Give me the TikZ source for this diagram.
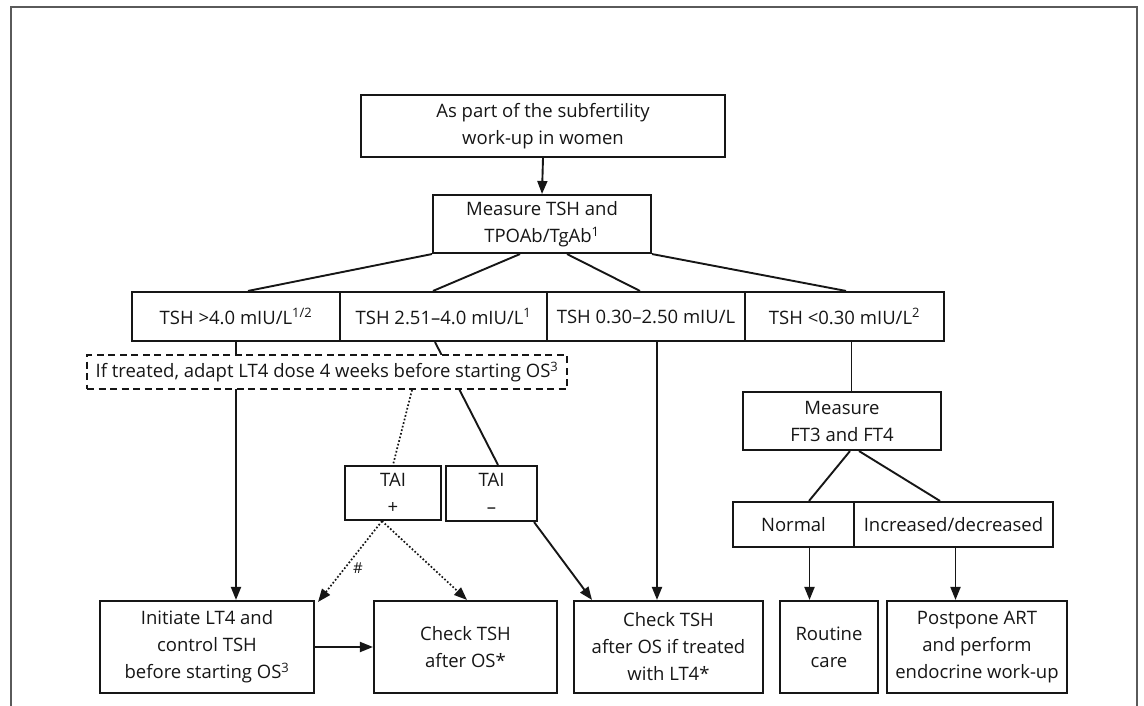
\documentclass[tikz,border=0pt]{standalone}
\usepackage{fontspec}
\setmainfont{Open Sans}
\usetikzlibrary{arrows.meta}
\definecolor{ink}{HTML}{161616}
\definecolor{framegray}{HTML}{5A5A5A}
\begin{document}
\begin{tikzpicture}[x=1pt,y=-1pt,
  every node/.style={font=\fontsize{18.5}{27}\selectfont, text=ink},
  box/.style={draw=ink, line width=2.1pt, fill=white, inner sep=0pt, align=center},
  conn/.style={draw=ink, line width=1.9pt},
  arr/.style={conn, -{Triangle[length=13pt,width=10pt]}},
  dotconn/.style={draw=ink, line width=1.7pt, dotted},
  dotarr/.style={dotconn, -{Triangle[length=13pt,width=10pt]}}
]
\useasboundingbox (0,0) rectangle (1144,706);
\draw[framegray, line width=2.4pt] (10.7,706) -- (10.7,7.3) -- (1136.7,7.3) -- (1136.7,706);

% nodes
\node[box, minimum width=364pt, minimum height=62pt] (top) at (543,126) {As part of the subfertility\\work-up in women};
\node[box, minimum width=218pt, minimum height=58pt] (meas) at (542,224) {Measure TSH and\\TPOAb/TgAb\textsuperscript{1}};
\node[box, minimum width=208pt, minimum height=49pt] (t1) at (236,316.5) {TSH >4.0 mIU/L\textsuperscript{1/2}};
\node[box, minimum width=207pt, minimum height=49pt] (t2) at (443.5,316.5) {TSH 2.51–4.0 mIU/L\textsuperscript{1}};
\node[box, minimum width=198pt, minimum height=49pt] (t3) at (646,316.5) {TSH 0.30–2.50 mIU/L};
\node[box, minimum width=199pt, minimum height=49pt] (t4) at (844.5,316.5) {TSH <0.30 mIU/L\textsuperscript{2}};
\node[box, minimum width=96pt, minimum height=54pt] (taip) at (393,493) {TAI\\+};
\node[box, minimum width=91pt, minimum height=55pt] (taim) at (491.5,493.5) {TAI\\–};
\node[box, minimum width=214pt, minimum height=92pt] (init) at (207,647) {Initiate LT4 and\\control TSH\\before starting OS\textsuperscript{3}};
\node[box, minimum width=183pt, minimum height=92pt] (chk) at (465.5,647) {Check TSH\\after OS*};
\node[box, minimum width=189pt, minimum height=92pt] (chk2) at (668.5,647) {Check TSH\\after OS if treated\\with LT4*};
\node[box, minimum width=198pt, minimum height=58pt] (ft) at (842,421) {Measure\\FT3 and FT4};
\node[box, minimum width=121pt, minimum height=45pt] (nor) at (793.5,524.5) {Normal};
\node[box, minimum width=199pt, minimum height=45pt] (inc) at (953.5,524.5) {Increased/decreased};
\node[box, minimum width=98pt, minimum height=92pt] (rout) at (829,647) {Routine\\care};
\node[box, minimum width=180pt, minimum height=92pt] (post) at (977,647) {Postpone ART\\and perform\\endocrine work-up};

% connectors
\draw[arr] (top.south) -- (meas.north);
\draw[conn] (meas.south west) -- ([xshift=12pt]t1.north);
\draw[conn] ([xshift=-22pt]meas.south) -- ([xshift=-10.5pt]t2.north);
\draw[conn] ([xshift=25pt]meas.south) -- ([xshift=-6pt]t3.north);
\draw[conn] (meas.south east) -- ([xshift=1.5pt]t4.north);
\draw[arr] (t1.south) -- (t1.south |- init.north);
\draw[conn] ([xshift=-8.5pt]t2.south) -- ([xshift=6.5pt]taim.north);

% dashed box over the lines
\node[box, dash pattern=on 7pt off 4.5pt, line width=1.9pt, minimum width=480pt, minimum height=34pt] (adapt) at (327,372) {If treated, adapt LT4 dose 4 weeks before starting OS\textsuperscript{3}};

\draw[dotconn] ([xshift=85pt]adapt.south) -- (taip.north);
\draw[dotarr] ([xshift=-11pt]taip.south) -- ([xshift=3pt,yshift=-2pt]init.north east);
\draw[dotarr] ([xshift=-11pt]taip.south) -- ([xshift=1.5pt]chk.north);
\node[font=\fontsize{15}{17}\selectfont] (hash) at (358,568) {\#};
\draw[arr] (init.east) -- (chk.west);
\draw[arr] ([xshift=-4pt]taim.south east) -- ([xshift=-76.5pt]chk2.north);
\draw[arr] ([xshift=11pt]t3.south) -- ([xshift=11pt]t3.south |- chk2.north);
\draw[conn] ([xshift=7pt]t4.south) -- ([xshift=7pt]t4.south |- ft.north);
\draw[conn] ([xshift=8pt]ft.south) -- ([xshift=15.5pt]nor.north);
\draw[conn] ([xshift=17pt]ft.south) -- ([xshift=-13.5pt]inc.north);
\draw[arr] ([xshift=16pt]nor.south) -- ([xshift=16pt]nor.south |- rout.north);
\draw[arr] ([xshift=2pt]inc.south) -- ([xshift=2pt]inc.south |- post.north);
\end{tikzpicture}
\end{document}
